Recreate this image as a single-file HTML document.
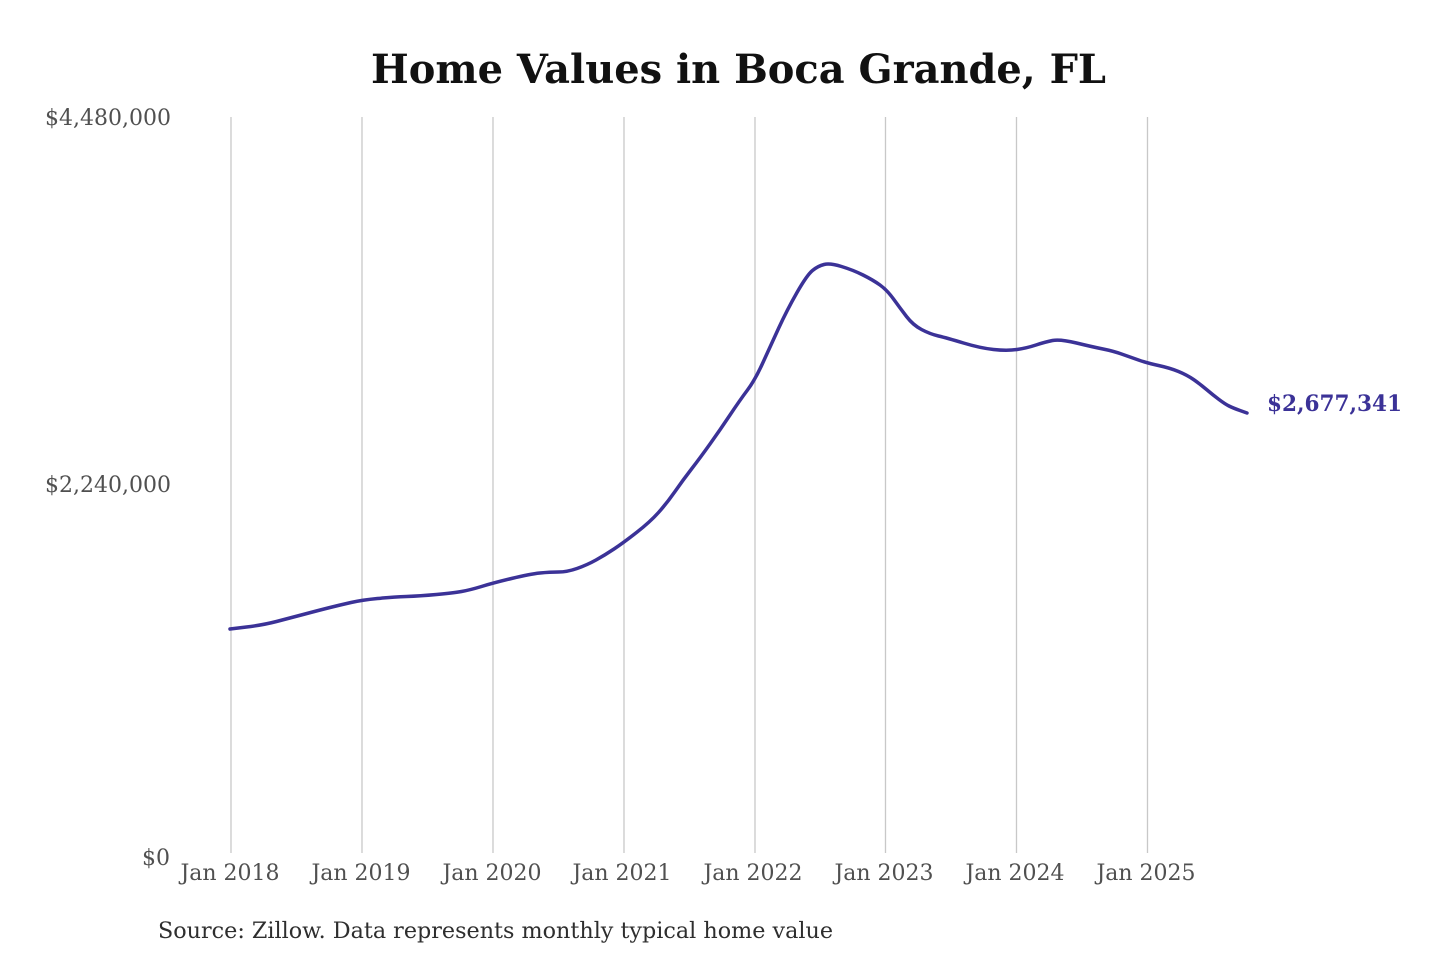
<!DOCTYPE html>
<html>
<head>
<meta charset="utf-8">
<style>
  html, body { margin: 0; padding: 0; background: #ffffff; }
  svg { display: block; }
  .t { font-family: "DejaVu Serif", "Liberation Serif", serif; }
</style>
</head>
<body>
<svg width="1440" height="960" viewBox="0 0 1440 960" xmlns="http://www.w3.org/2000/svg">
  <rect x="0" y="0" width="1440" height="960" fill="#ffffff"/>

  <!-- Title -->
  <text class="t" x="371" y="83" font-size="40" font-weight="bold" fill="#111111" textLength="735" lengthAdjust="spacingAndGlyphs">Home Values in Boca Grande, FL</text>

  <!-- Gridlines -->
  <g stroke="#c8c8c8" stroke-width="1.3">
    <line x1="231" y1="117" x2="231" y2="853"/>
    <line x1="362" y1="117" x2="362" y2="853"/>
    <line x1="493" y1="117" x2="493" y2="853"/>
    <line x1="624" y1="117" x2="624" y2="853"/>
    <line x1="755" y1="117" x2="755" y2="853"/>
    <line x1="885.5" y1="117" x2="885.5" y2="853"/>
    <line x1="1016.5" y1="117" x2="1016.5" y2="853"/>
    <line x1="1147.5" y1="117" x2="1147.5" y2="853"/>
  </g>

  <!-- Y axis labels -->
  <g class="t" font-size="22" fill="#505050" text-anchor="end">
    <text x="171" y="125">$4,480,000</text>
    <text x="171" y="492">$2,240,000</text>
    <text x="170" y="865">$0</text>
  </g>

  <!-- X axis labels -->
  <g class="t" font-size="22" fill="#505050" text-anchor="middle">
    <text x="230" y="880">Jan 2018</text>
    <text x="361" y="880">Jan 2019</text>
    <text x="492" y="880">Jan 2020</text>
    <text x="622" y="880">Jan 2021</text>
    <text x="753" y="880">Jan 2022</text>
    <text x="884" y="880">Jan 2023</text>
    <text x="1015" y="880">Jan 2024</text>
    <text x="1146" y="880">Jan 2025</text>
  </g>

  <!-- Data line -->
  <path fill="none" stroke="#3b3297" stroke-width="3.5" stroke-linejoin="round" stroke-linecap="round"
    d="M 230,629 L 246.5,627
       Q 263,625 276.5,621.5 Q 290,618 305,614 Q 320,610 330,607.5 Q 340,605 351,602.5
       Q 362,600 377.5,598.5 Q 393,597 406.5,596.5 Q 420,596 436.5,594.5 Q 453,593 461.5,591.5
       Q 470,590 481.5,586.5 Q 493,583 511.5,578.5 Q 530,574 540,573 Q 550,572 558.5,572
       Q 567,572 577,568.5 Q 587,565 596,560 Q 605,555 614,549 Q 623,543 636.5,532.5
       Q 650,522 658.5,512.5 Q 667,503 675,491.5 Q 683,480 691.5,469 Q 700,458 710,444
       Q 720,430 730,415 Q 740,400 747.5,390 Q 755,380 762.5,363.5 Q 770,347 778.5,328.5
       Q 787,310 797,292.5 Q 807,275 812.5,270.5 Q 818,266 824,264.5 Q 830,263 841.5,266.5
       Q 853,270 863,275 Q 873,280 880,285 Q 887,290 893.5,299 Q 900,308 906.5,316.5
       Q 913,325 921.5,329.5 Q 930,334 938.5,336 Q 947,338 963.5,343 Q 980,348 993.5,349.5
       Q 1007,351 1017,349.5 Q 1027,348 1036,345 Q 1045,342 1052.5,340.5 Q 1060,339 1076.5,343
       Q 1093,347 1103,349 Q 1113,351 1121.5,354 Q 1130,357 1138.5,360 Q 1147,363 1158.5,365.5
       Q 1170,368 1178.5,371.5 Q 1187,375 1193.5,379.5 Q 1200,384 1206.5,389.5 Q 1213,395 1219,399.5
       Q 1225,404 1229,406 Q 1233,408 1240,410.5 L 1247,413"/>

  <!-- End label -->
  <text class="t" x="1267" y="411" font-size="22" font-weight="bold" fill="#3b3297" textLength="135" lengthAdjust="spacingAndGlyphs">$2,677,341</text>

  <!-- Source -->
  <text class="t" x="158" y="938" font-size="22" fill="#2e2e2e" textLength="675" lengthAdjust="spacingAndGlyphs">Source: Zillow. Data represents monthly typical home value</text>
</svg>
</body>
</html>
